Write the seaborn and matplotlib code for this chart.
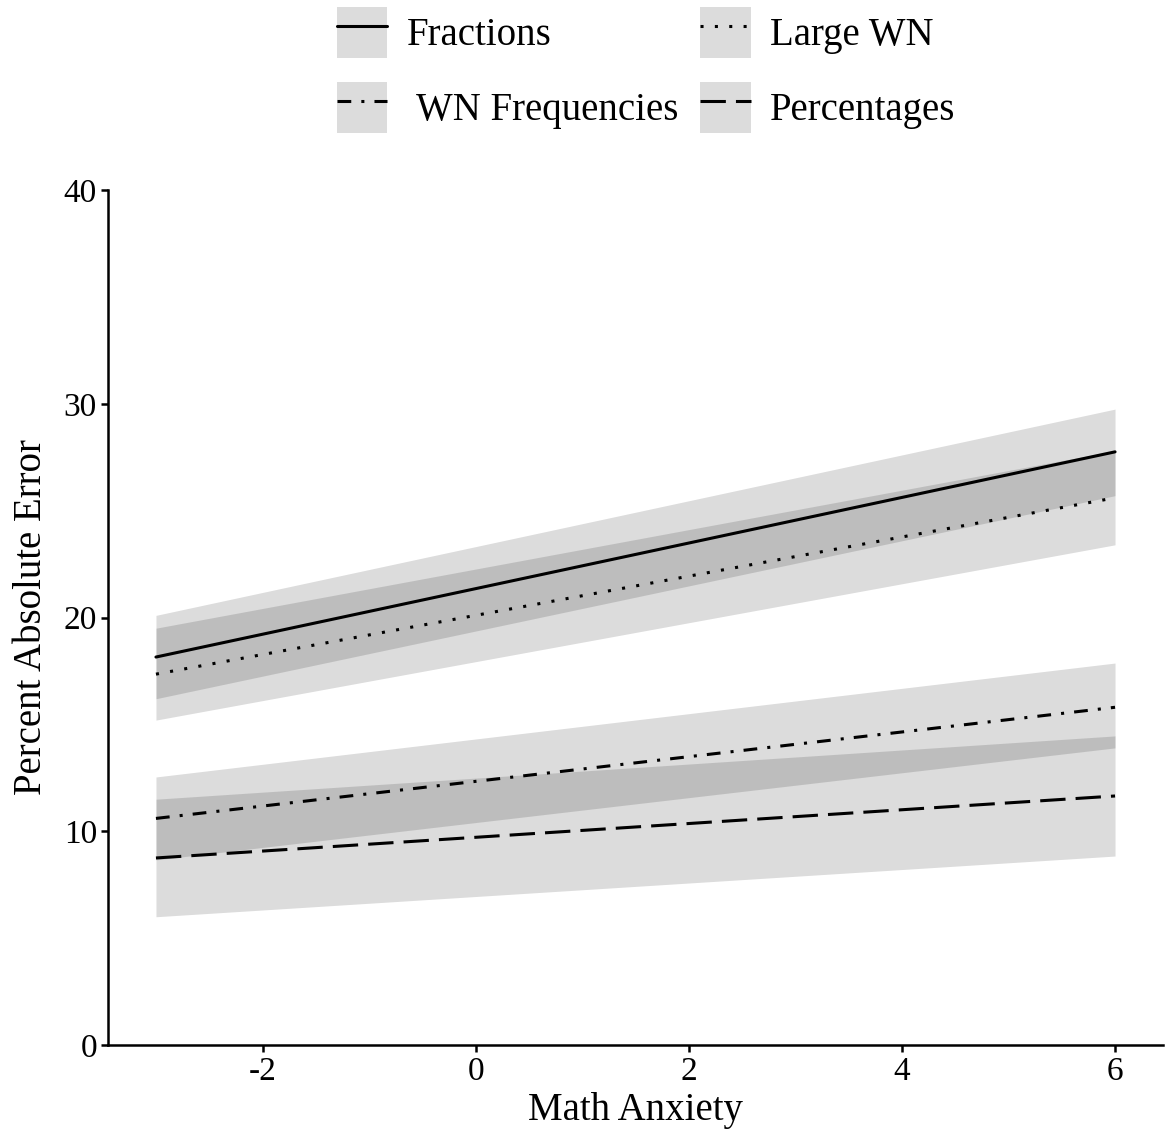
import pandas as pd
import matplotlib
matplotlib.use("Agg")
import matplotlib.pyplot as plt
from matplotlib.patches import Patch
from matplotlib.lines import Line2D
from matplotlib.legend_handler import HandlerTuple
import seaborn as sns

# values at the two ends of the anxiety range
math_anxiety = [-3, 6]
tasks = ["Fractions", "Large WN", " WN Frequencies", "Percentages"]
fit = {
    "Fractions": [18.15, 27.75],
    "Large WN": [17.35, 25.6],
    " WN Frequencies": [10.6, 15.8],
    "Percentages": [8.75, 11.65],
}
lower = {
    "Fractions": [16.2, 25.7],
    "Large WN": [15.2, 23.4],
    " WN Frequencies": [8.66, 13.9],
    "Percentages": [6.0, 8.84],
}
upper = {
    "Fractions": [20.1, 29.75],
    "Large WN": [19.5, 27.8],
    " WN Frequencies": [12.54, 17.87],
    "Percentages": [11.5, 14.46],
}

rows = []
for t in tasks:
    for x, y, lo, hi in zip(math_anxiety, fit[t], lower[t], upper[t]):
        rows.append({"task": t, "x": x, "y": y, "lo": lo, "hi": hi})
df = pd.DataFrame(rows)

dash_map = {
    "Fractions": "",
    "Large WN": (1, 3.7),
    " WN Frequencies": (4.5, 3.3, 1, 3.3),
    "Percentages": (8.3, 3.3),
}

sns.set_style("ticks")
plt.rcParams["font.family"] = ["Liberation Serif", "DejaVu Serif"]
plt.rcParams["text.color"] = "black"
plt.rcParams["axes.labelcolor"] = "black"
plt.rcParams["axes.unicode_minus"] = False

fig = plt.figure(figsize=(11.65, 11.4), dpi=100)
ax = fig.add_axes([108 / 1165, 1 - 1045 / 1140, (1163 - 108) / 1165, (1045 - 190) / 1140])

for t in tasks:
    d = df[df.task == t]
    ax.fill_between(d.x, d.lo, d.hi, color="black", alpha=0.137, linewidth=0)

sns.lineplot(data=df, x="x", y="y", style="task", style_order=tasks, dashes=dash_map,
             color="black", linewidth=2.2, ax=ax, legend=False)
for ln in ax.get_lines():
    ln.set_dash_capstyle("butt")

ax.set_xlim(-3.45, 6.45)
ax.set_ylim(0, 40)
ax.set_xticks([-2, 0, 2, 4, 6])
ax.set_yticks([0, 10, 20, 30, 40])
ax.set_xlabel("Math Anxiety", fontsize=28, labelpad=4)
ax.set_ylabel("Percent Absolute Error", fontsize=28, labelpad=10)
ax.tick_params(labelsize=24, length=5, width=1.8, pad=3, colors="black")
for s in ["left", "bottom"]:
    ax.spines[s].set_linewidth(1.8)
    ax.spines[s].set_color("black")
sns.despine(ax=ax)

handles = []
for t in tasks:
    ls = "-" if dash_map[t] == "" else (0, dash_map[t])
    handles.append((Patch(facecolor="#dcdcdc", edgecolor="none"),
                    Line2D([], [], color="black", linewidth=2.2, linestyle=ls, dash_capstyle="butt")))
# matplotlib fills columns first
order = [0, 2, 1, 3]
fig.legend([handles[i] for i in order], [tasks[i] for i in order],
           handler_map={tuple: HandlerTuple(ndivide=1)},
           loc="upper center", bbox_to_anchor=(646 / 1165, 1 - 7 / 1140), ncol=2,
           frameon=False, fontsize=28, handlelength=1.31, handleheight=1.64,
           handletextpad=0.49, columnspacing=0.57, labelspacing=0.62,
           borderpad=0, borderaxespad=0)

fig.savefig("out.png", dpi=100)
